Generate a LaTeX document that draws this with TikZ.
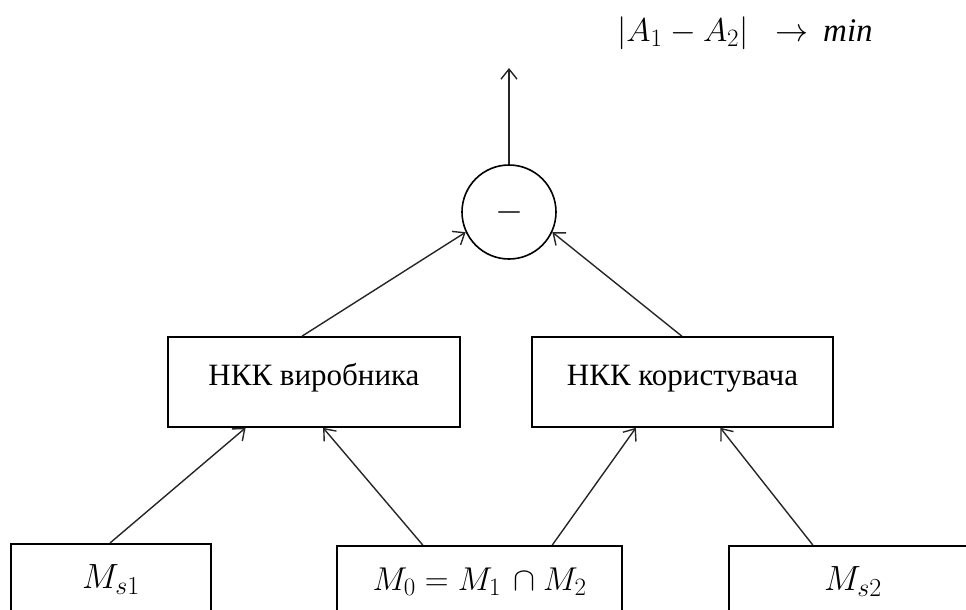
\RequirePackage{fix-cm}
\documentclass[tikz,border=0pt]{standalone}
\usepackage{fontspec}
\setmainfont{Liberation Serif}
\DeclareMathSizes{35}{35}{26}{20}
\DeclareMathSizes{33}{33}{25}{19}
\DeclareMathSizes{36}{36}{27}{20}
\usetikzlibrary{arrows.meta,calc}
\begin{document}
\begin{tikzpicture}[x=1pt,y=-1pt,
  box/.style={draw, line width=1.6pt, rectangle, inner sep=0pt},
  upbox/.style={box, minimum height=90pt, text height=6pt, text depth=0pt, font=\fontsize{31}{34}\selectfont},
  lowbox/.style={box, anchor=north, minimum height=100pt, text height=0pt, text depth=10pt, font=\fontsize{35}{40}\selectfont},
  arr/.style={line width=1.4pt, draw=black!85, -{Straight Barb[length=10pt,width=16pt,line width=1.4pt]}}]
\useasboundingbox (0,0) rectangle (966,610);
\clip (0,0) rectangle (966,610);
% goal
\node[anchor=base, inner sep=0pt, font=\fontsize{33}{36}\selectfont] (goal) at (745,42) {$|A_1 - A_2|\hspace{18pt}\rightarrow \, \mathit{min}$};
% circle
\node[draw, line width=1.6pt, circle, minimum size=94pt, inner sep=0pt, font=\fontsize{36}{40}\selectfont] (c) at (509,212) {$-$};
\coordinate (up) at (509,68);
% middle boxes
\node[upbox, minimum width=292pt] (nkv) at (314,382) {НКК виробника};
\node[upbox, minimum width=301pt] (nkk) at (682.5,382) {НКК користувача};
% bottom boxes
\node[lowbox, minimum width=200pt] (ms1) at (111,543) {$M_{s1}$};
\node[lowbox, minimum width=285pt, font=\fontsize{33}{38}\selectfont] (m0) at (479.5,545) {$M_0 = M_1\,\cap M_2$};
\node[lowbox, minimum width=248pt] (ms2) at (853,545) {$M_{s2}$};
% connectors
\draw[arr] (c.north) -- (up);
\draw[arr] ($(nkv.north west)!0.459!(nkv.north east)$) -- (c.205);
\draw[arr] ($(nkk.north west)!0.498!(nkk.north east)$) -- (c.335);
\draw[arr] ($(ms1.north west)!0.495!(ms1.north east)$) -- ($(nkv.south west)!0.267!(nkv.south east)$);
\draw[arr] ($(m0.north west)!0.302!(m0.north east)$) -- ($(nkv.south west)!0.531!(nkv.south east)$);
\draw[arr] ($(m0.north west)!0.754!(m0.north east)$) -- ($(nkk.south west)!0.346!(nkk.south east)$);
\draw[arr] ($(ms2.north west)!0.339!(ms2.north east)$) -- ($(nkk.south west)!0.625!(nkk.south east)$);
\end{tikzpicture}
\end{document}
